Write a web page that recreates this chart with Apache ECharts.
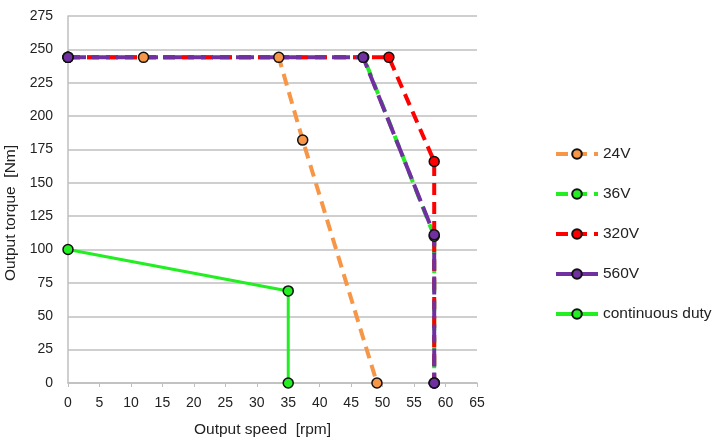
<!DOCTYPE html>
<html><head><meta charset="utf-8">
<script src="https://cdn.jsdelivr.net/npm/echarts@6/dist/echarts.min.js"></script>
<style>html,body{margin:0;padding:0;background:#fff}#c{width:712px;height:443px}</style>
</head><body><div id="c"></div>
<script>
const seriesNames = ['24V', '36V', '320V', '560V', 'continuous duty'];
const data24V = [[0, 244], [12, 244], [33.5, 244], [37.3, 182], [49.1, 0]];
const data36V = [[0, 244], [47, 244], [58.2, 110], [58.2, 0]];
const data320V = [[0, 244], [51, 244], [58.2, 166], [58.2, 0]];
const data560V = [[0, 244], [46.9, 244], [58.2, 111], [58.2, 0]];
const dataCont = [[0, 100], [35, 69], [35, 0]];
const xTicks = [0, 65, 5];
const yTicks = [0, 275, 25];

const font = 'Liberation Sans';
const colors = ['#F79646', '#22EE22', '#FF0000', '#7030A0', '#22EE22'];
const dashes = [[12, 7], [12, 7], [12, 7], [18, 6], 'solid'];
const allData = [data24V, data36V, data320V, data560V, dataCont];

const chart = echarts.init(document.getElementById('c'));
chart.setOption({
  animation: false,
  grid: {left: 68, right: 235, top: 16, bottom: 60, outerBoundsMode: 'none', containLabel: false},
  legend: {
    orient: 'vertical', left: 549, top: 141, itemGap: 24,
    itemWidth: 42, itemHeight: 12,
    lineStyle: {width: 4},
    textStyle: {fontFamily: font, fontSize: 15.5, color: '#222'},
    data: seriesNames
  },
  xAxis: {
    type: 'value', min: xTicks[0], max: xTicks[1], interval: xTicks[2],
    name: 'Output speed  [rpm]', nameLocation: 'middle', nameGap: 39,
    nameTextStyle: {fontFamily: font, fontSize: 15.5, color: '#222', padding: [0, 20, 0, 0]},
    axisLine: {show: true, lineStyle: {color: '#BFBFBF', width: 1.5}},
    axisTick: {show: true, length: 4, lineStyle: {color: '#BFBFBF'}},
    axisLabel: {fontFamily: font, fontSize: 14, color: '#222', margin: 13},
    splitLine: {show: false}
  },
  yAxis: {
    type: 'value', min: yTicks[0], max: yTicks[1], interval: yTicks[2],
    name: 'Output torque  [Nm]', nameLocation: 'middle', nameGap: 42,
    nameTextStyle: {fontFamily: font, fontSize: 15.5, color: '#222', padding: [0, 27, 0, 0]},
    axisLine: {show: true, lineStyle: {color: '#BFBFBF', width: 1.5}},
    axisTick: {show: false},
    axisLabel: {fontFamily: font, fontSize: 14, color: '#222', margin: 15},
    splitLine: {show: true, lineStyle: {color: '#BFBFBF', width: 1.5}}
  },
  series: seriesNames.map((n, i) => ({
    name: n, type: 'line', data: allData[i],
    symbol: 'circle', symbolSize: 10,
    itemStyle: {color: colors[i], borderColor: '#111', borderWidth: 1.5},
    lineStyle: {color: colors[i], width: i === 4 ? 3 : 4, type: dashes[i]},
    emphasis: {disabled: true}
  }))
});
</script></body></html>
